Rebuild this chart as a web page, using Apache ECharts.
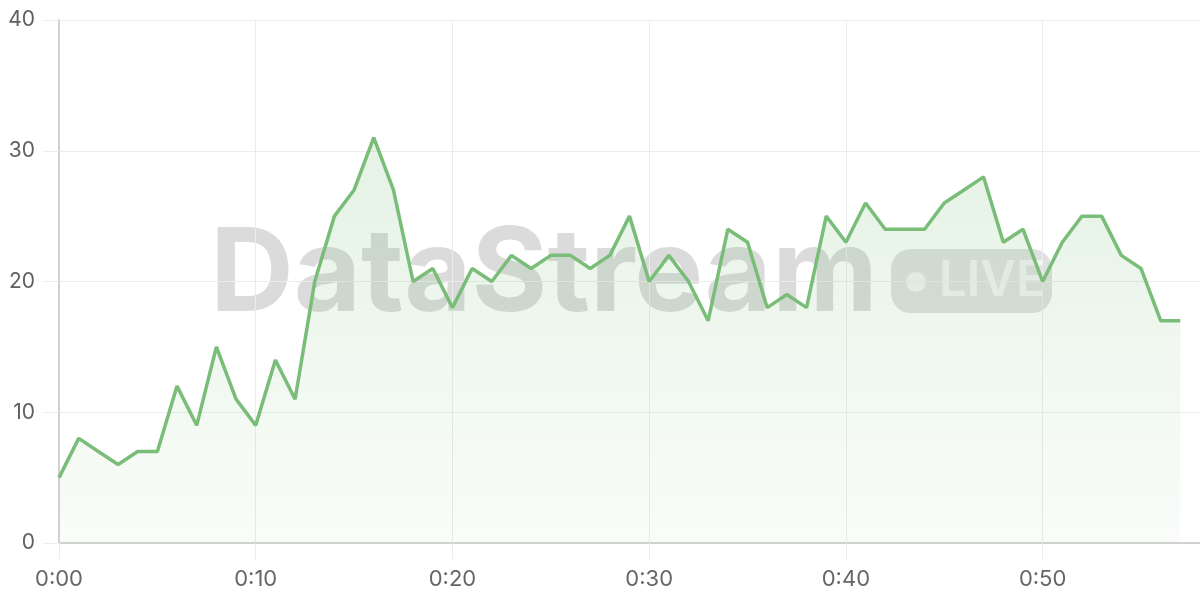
<!DOCTYPE html>
<html>
<head>
<meta charset="utf-8">
<script src="https://cdn.jsdelivr.net/npm/echarts@6/dist/echarts.min.js"></script>
<style>html,body{margin:0;padding:0;background:#fff}#c{width:1200px;height:600px}</style>
</head>
<body>
<div id="c"></div>
<script>
// Values per minute, starting at 0:00
const minutes = [0,1,2,3,4,5,6,7,8,9,10,11,12,13,14,15,16,17,18,19,20,21,22,23,24,25,26,27,28,29,30,31,32,33,34,35,36,37,38,39,40,41,42,43,44,45,46,47,48,49,50,51,52,53,54,55,56,57];
const values = [5,8,7,6,7,7,12,9,15,11,9,14,11,20,25,27,31,27,20,21,18,21,20,22,21,22,22,21,22,25,20,22,20,17,24,23,18,19,18,25,23,26,24,24,24,26,27,28,23,24,20,23,25,25,22,21,17,17];
const yTicks = [0,10,20,30,40];
const xTickLabels = ['0:00','0:10','0:20','0:30','0:40','0:50'];
const watermarkText = 'DataStream';
const badgeText = 'LIVE';

const chart = echarts.init(document.getElementById('c'), null, {renderer:'canvas'});
const data = minutes.map((m,i)=>[m, values[i]]);
const font = 'Inter, "Liberation Sans", sans-serif';

chart.setOption({
  animation:false,
  grid:{left:59, right:0, top:20, bottom:57, containLabel:false},
  xAxis:{
    type:'value', min:0, max:58, interval:10,
    axisLine:{show:true, lineStyle:{color:'#d2d2d2', width:2}},
    axisTick:{show:true, length:16, lineStyle:{color:'#ececec', width:1}},
    splitLine:{show:true, lineStyle:{color:'#ececec', width:1}},
    axisLabel:{
      color:'#666', fontSize:22, fontFamily:font, margin:25,
      showMaxLabel:false,
      formatter:(v)=>{ const i = v/10; return Number.isInteger(i) && xTickLabels[i] ? xTickLabels[i] : ''; }
    }
  },
  yAxis:{
    type:'value', min:yTicks[0], max:yTicks[yTicks.length-1], interval:10,
    axisLine:{show:true, lineStyle:{color:'#d2d2d2', width:2}},
    axisTick:{show:true, length:16, lineStyle:{color:'#ececec', width:1}},
    splitLine:{show:true, lineStyle:{color:'#ececec', width:1}},
    axisLabel:{color:'#5f5f5f', fontSize:21, fontFamily:font, margin:24}
  },
  graphic:[
    {type:'text', z:-1, left:210, top:218,
      style:{text:watermarkText, fontSize:116, fontWeight:'bold', fontFamily:'Inter, "Liberation Sans", sans-serif', fill:'rgba(0,0,0,0.14)'}},
    {type:'rect', z:-1, shape:{x:891, y:249, width:161, height:64, r:20}, style:{fill:'rgba(0,0,0,0.12)'}},
    {type:'circle', z:-1, shape:{cx:916, cy:282, r:10}, style:{fill:'rgba(255,255,255,0.6)'}},
    {type:'text', z:-1, left:939, top:257,
      style:{text:badgeText, fontSize:49, fontWeight:600, fontFamily:'Inter, "Liberation Sans", sans-serif', fill:'rgba(255,255,255,0.6)'}}
  ],
  series:[{
    type:'line', data:data, showSymbol:false, smooth:false,
    lineStyle:{color:'#79bd79', width:3.5},
    itemStyle:{color:'#79bd79'},
    areaStyle:{color:new echarts.graphic.LinearGradient(0,0,0,1,[
      {offset:0, color:'rgba(121,189,121,0.28)'},
      {offset:1, color:'rgba(121,189,121,0.06)'}
    ]), origin:'start'}
  }]
});
</script>
</body>
</html>
